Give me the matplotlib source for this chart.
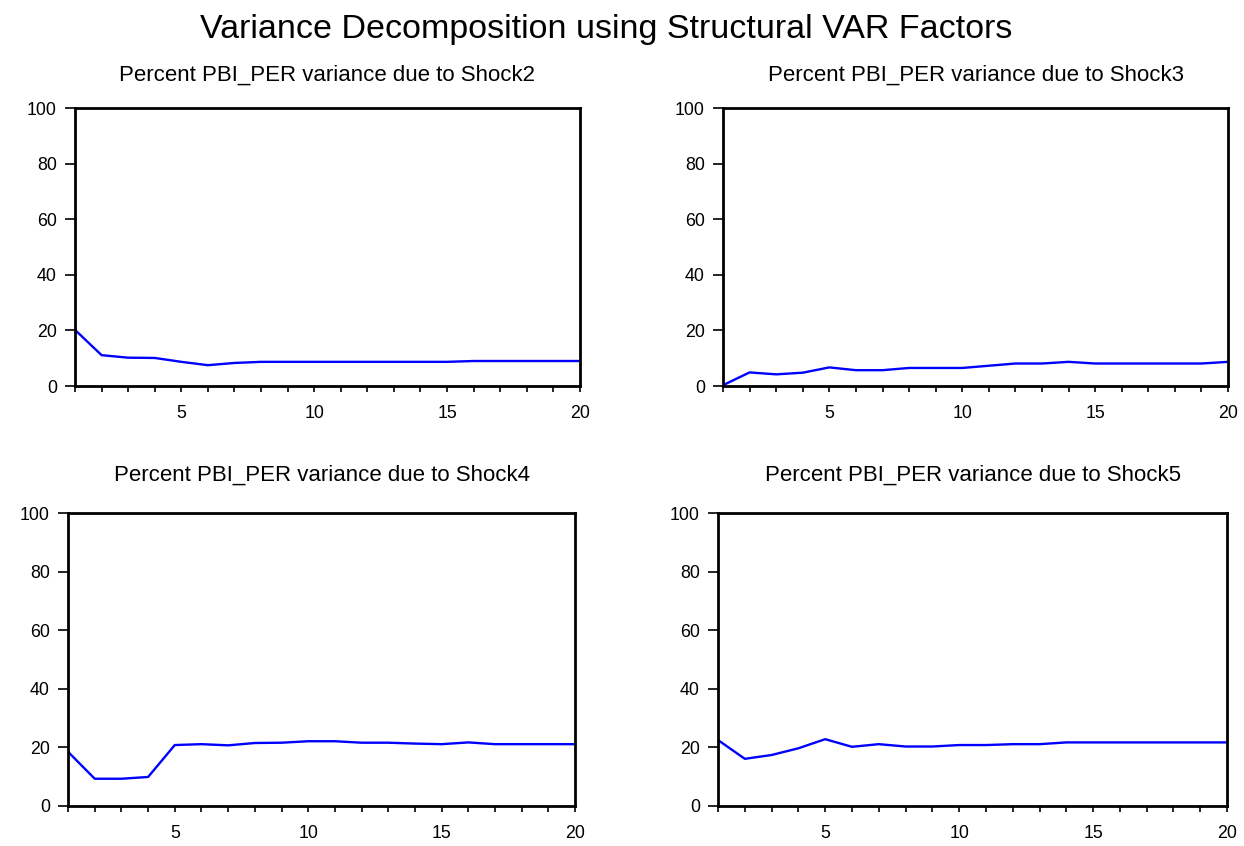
import matplotlib.pyplot as plt
import numpy as np

plt.rcParams['font.family'] = ['Liberation Sans', 'DejaVu Sans']

periods = list(range(1, 21))

shock2 = [20.2, 11.1, 10.2, 10.1, 8.7, 7.5, 8.3, 8.7, 8.7, 8.7,
          8.7, 8.7, 8.7, 8.7, 8.7, 9.0, 9.0, 9.0, 9.0, 9.0]
shock3 = [0.3, 4.9, 4.2, 4.8, 6.7, 5.7, 5.7, 6.5, 6.5, 6.5,
          7.3, 8.1, 8.1, 8.7, 8.1, 8.1, 8.1, 8.1, 8.1, 8.7]
shock4 = [18.5, 9.3, 9.3, 9.9, 20.8, 21.1, 20.7, 21.5, 21.6, 22.1,
          22.1, 21.6, 21.6, 21.3, 21.1, 21.7, 21.1, 21.1, 21.1, 21.1]
shock5 = [22.5, 16.1, 17.4, 19.7, 22.8, 20.2, 21.1, 20.3, 20.3, 20.8,
          20.8, 21.1, 21.1, 21.7, 21.7, 21.7, 21.7, 21.7, 21.7, 21.7]

series = [shock2, shock3, shock4, shock5]
titles = ["Percent PBI_PER variance due to Shock2",
          "Percent PBI_PER variance due to Shock3",
          "Percent PBI_PER variance due to Shock4",
          "Percent PBI_PER variance due to Shock5"]

# axes boxes in figure fractions (left, bottom, width, height)
boxes = [(0.0603, 0.5437, 0.4059, 0.3286),
         (0.5812, 0.5437, 0.4060, 0.3286),
         (0.0547, 0.0473, 0.4076, 0.3463),
         (0.5772, 0.0473, 0.4092, 0.3463)]
title_pads = [20, 20, 23, 23]

fig = plt.figure(figsize=(12.44, 8.46), dpi=100)
fig.text(0.487, 0.965, "Variance Decomposition using Structural VAR Factors",
         ha='center', va='center', fontsize=24.5)

for vals, title, box, pad in zip(series, titles, boxes, title_pads):
    ax = fig.add_axes(box)
    ax.plot(periods, vals, color='#0000ff', linewidth=1.7)
    ax.set_xlim(1, 20)
    ax.set_ylim(0, 100)
    ax.set_yticks([0, 20, 40, 60, 80, 100])
    ax.set_xticks(periods)
    ax.set_xticklabels([str(p) if p % 5 == 0 else '' for p in periods])
    ax.tick_params(direction='out', width=1.2, labelsize=12.8, colors='black')
    ax.tick_params(axis='y', length=7, pad=6)
    ax.tick_params(axis='x', length=4.5, pad=9)
    for sp in ax.spines.values():
        sp.set_linewidth(2)
        sp.set_color('black')
    ax.set_title(title, fontsize=16, pad=pad)

fig.savefig('out.png', dpi=100)
